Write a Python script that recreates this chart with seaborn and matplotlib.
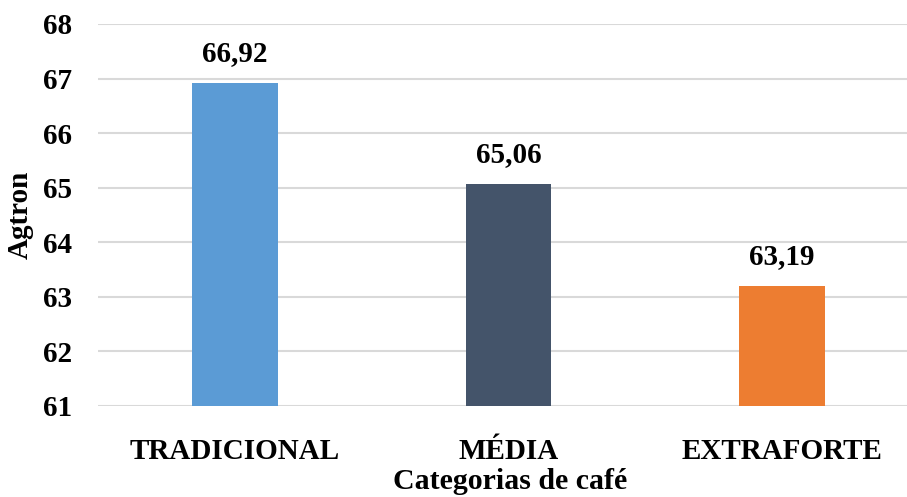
import matplotlib
matplotlib.use("Agg")
import matplotlib.pyplot as plt
import seaborn as sns
import pandas as pd

categories = ["TRADICIONAL", "MÉDIA", "EXTRAFORTE"]
values = [66.92, 65.06, 63.19]
value_labels = ["66,92", "65,06", "63,19"]
colors = ["#5B9BD5", "#44546A", "#ED7D31"]
y_ticks = [61, 62, 63, 64, 65, 66, 67, 68]

sns.set_theme(style="white")
plt.rcParams['font.family'] = ['Liberation Serif', 'DejaVu Serif']
plt.rcParams['font.weight'] = 'bold'
plt.rcParams['text.color'] = 'black'
plt.rcParams['axes.labelcolor'] = 'black'
plt.rcParams['xtick.color'] = 'black'
plt.rcParams['ytick.color'] = 'black'

df = pd.DataFrame({"cat": categories, "val": values})

fig = plt.figure(figsize=(9.07, 4.97), dpi=100)
ax = fig.add_axes([98/907, 1-406/497, 1-98/907, (406-24)/497])

sns.barplot(data=df, x="cat", y="val", hue="cat", palette=colors, legend=False,
            width=0.314, ax=ax, saturation=1, edgecolor="none", zorder=3)

ax.set_ylim(61, 68)
ax.set_xlim(-0.501, 2.457)
ax.set_yticks(y_ticks)
ax.set_yticklabels([str(t) for t in y_ticks], fontsize=21, fontweight='bold')
ax.yaxis.grid(True, color="#d9d9d9", linewidth=1.5, zorder=0)
ax.xaxis.grid(False)
for s in ax.spines.values():
    s.set_visible(False)
ax.tick_params(axis='y', length=0, pad=18.5)
ax.tick_params(axis='x', length=0, pad=23)
for lbl in ax.get_xticklabels():
    lbl.set_fontsize(21)
    lbl.set_fontweight('bold')

for i, (v, t) in enumerate(zip(values, value_labels)):
    ax.annotate(t, (i, v), xytext=(0, 16), textcoords="offset points",
                ha="center", va="baseline", fontsize=21, fontweight="bold")

ax.set_xlabel("Categorias de café", fontsize=21.5, fontweight="bold", labelpad=2)
ax.xaxis.label.set_x(0.509)
ax.set_ylabel("Agtron", fontsize=21, fontweight="bold")
ax.yaxis.set_label_coords(-64/809, 0.5)

fig.savefig("out.png", dpi=100)
